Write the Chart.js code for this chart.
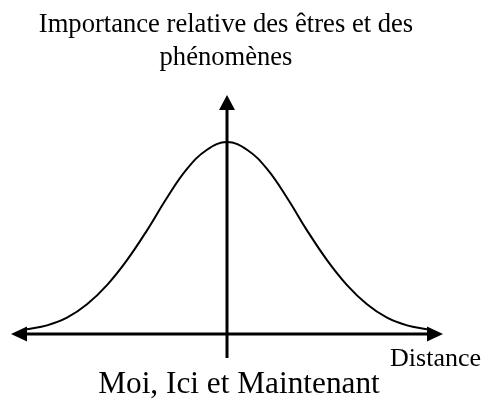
<!DOCTYPE html>
<html>
<head>
<meta charset="utf-8">
<script src="https://cdn.jsdelivr.net/npm/chart.js@4"></script>
<style>
  body { margin: 0; background: #fff; }
  #wrap { width: 486px; height: 400px; }
</style>
</head>
<body>
<div id="wrap"><canvas id="bell" width="486" height="400"></canvas></div>
<script>
// distance from "moi, ici et maintenant" (arbitrary units)
var distance = [-10, -9, -8, -7, -6, -5, -4, -3, -2, -1, 0, 1, 2, 3, 4, 5, 6, 7, 8, 9, 10];
// relative importance (peak = 100)
var importance = [2.5, 4.5, 8.5, 15.5, 25.5, 38.5, 54, 71, 86, 96, 100, 96, 86, 71, 54, 38.5, 25.5, 15.5, 8.5, 4.5, 2.5];

var titleLines = ['Importance relative des êtres et des', 'phénomènes'];
var xLabel = 'Distance';
var originLabel = 'Moi, Ici et Maintenant';

var points = distance.map(function (d, i) {
    return { x: d, y: importance[i] };
});

// draws the two arrowed axes and the labels
var axesPlugin = {
    id: 'arrowAxes',
    afterDatasetsDraw: function (chart) {
        var ctx = chart.ctx;
        var xs = chart.scales.x, ys = chart.scales.y;
        var area = chart.chartArea;
        var x0 = xs.getPixelForValue(0);
        var y0 = ys.getPixelForValue(0);
        var xl = xs.getPixelForValue(xs.min + 0.2);
        var xr = xs.getPixelForValue(xs.max - 0.2);
        var yt = area.top;

        ctx.save();
        ctx.strokeStyle = '#000';
        ctx.fillStyle = '#000';
        ctx.lineWidth = 3;

        // horizontal axis
        ctx.beginPath();
        ctx.moveTo(xl + 10, y0);
        ctx.lineTo(xr - 10, y0);
        ctx.stroke();
        // vertical axis
        ctx.beginPath();
        ctx.moveTo(x0, area.bottom);
        ctx.lineTo(x0, yt + 10);
        ctx.stroke();

        // arrow heads
        ctx.beginPath();
        ctx.moveTo(xl, y0);
        ctx.lineTo(xl + 16, y0 - 7.5);
        ctx.lineTo(xl + 16, y0 + 7.5);
        ctx.closePath();
        ctx.fill();

        ctx.beginPath();
        ctx.moveTo(xr, y0);
        ctx.lineTo(xr - 16, y0 - 7.5);
        ctx.lineTo(xr - 16, y0 + 7.5);
        ctx.closePath();
        ctx.fill();

        ctx.beginPath();
        ctx.moveTo(x0, yt);
        ctx.lineTo(x0 - 8, yt + 15);
        ctx.lineTo(x0 + 8, yt + 15);
        ctx.closePath();
        ctx.fill();

        // texts
        ctx.textAlign = 'center';
        ctx.textBaseline = 'alphabetic';
        ctx.font = '26.6px "Liberation Serif", "Times New Roman", serif';
        ctx.fillText(titleLines[0], 226, 32);
        ctx.fillText(titleLines[1], 226, 65);

        ctx.font = '26px "Liberation Serif", "Times New Roman", serif';
        ctx.textAlign = 'right';
        ctx.fillText(xLabel, 481, 366);

        ctx.textAlign = 'center';
        ctx.font = '31.3px "Liberation Serif", "Times New Roman", serif';
        ctx.fillText(originLabel, 239, 393);
        ctx.restore();
    }
};

new Chart(document.getElementById('bell'), {
    type: 'line',
    data: {
        datasets: [{
            data: points,
            borderColor: '#000',
            borderWidth: 2,
            pointRadius: 0,
            fill: false,
            tension: 0.4
        }]
    },
    options: {
        responsive: false,
        animation: false,
        layout: {
            padding: { left: 7, right: 39, top: 95, bottom: 42 }
        },
        scales: {
            x: { type: 'linear', min: -11, max: 11, display: false },
            y: { min: -12.5, max: 124.5, display: false }
        },
        plugins: {
            legend: { display: false },
            tooltip: { enabled: false }
        }
    },
    plugins: [axesPlugin]
});
</script>
</body>
</html>
